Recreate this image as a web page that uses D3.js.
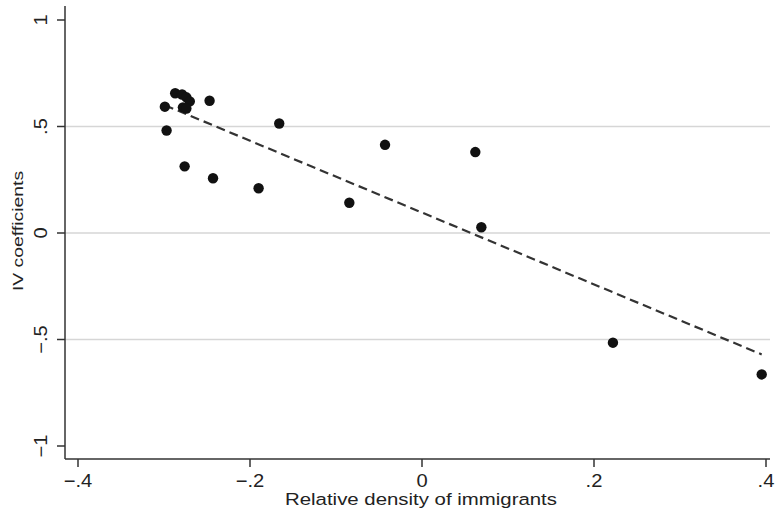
<!DOCTYPE html>
<html>
<head>
<meta charset="utf-8">
<script src="https://cdn.jsdelivr.net/npm/d3@7"></script>
<style>
  body { margin: 0; background: #fff; }
  text { font-family: "Liberation Sans", Arial, sans-serif; fill: #222; }
</style>
</head>
<body>
<div id="chart"></div>
<script>
// relative density of immigrants vs IV coefficient
const densityX = [-0.299, -0.297, -0.287, -0.279, -0.274, -0.270, -0.278, -0.274,
  -0.247, -0.276, -0.243, -0.190, -0.166, -0.0845, -0.043, 0.062, 0.069, 0.222, 0.395];
const ivCoef = [0.593, 0.481, 0.656, 0.650, 0.637, 0.618, 0.590, 0.584,
  0.621, 0.313, 0.257, 0.210, 0.514, 0.142, 0.414, 0.380, 0.027, -0.515, -0.664];

// linear fit end points
const fitX = [-0.299, 0.395];
const fitY = [0.600, -0.570];

const xTicks = [-0.4, -0.2, 0, 0.2, 0.4];
const yTicks = [-1, -0.5, 0, 0.5, 1];
const yGrid = [-0.5, 0, 0.5];

// stata style labels: 0, .5, -.5, 1
const fmt = v => {
  if (Number.isInteger(v)) return String(v).replace("-", "\u2212");
  return d3.format(".1f")(v).replace("0.", ".").replace("-", "\u2212");
};

const width = 778, height = 514;
const axisX = 65, axisY = 459;

const svg = d3.select("#chart").append("svg")
    .attr("width", width)
    .attr("height", height);

const x = d3.scaleLinear().domain([-0.4, 0.4]).range([78, 766]);
const y = d3.scaleLinear().domain([-1, 1]).range([446, 20]);

// grid lines
svg.selectAll("line.grid")
    .data(yGrid)
    .enter().append("line")
    .attr("class", "grid")
    .attr("x1", axisX).attr("x2", 770)
    .attr("y1", d => y(d)).attr("y2", d => y(d))
    .attr("stroke", "#d6d6d6")
    .attr("stroke-width", 1.5);

// axis lines
svg.append("line")
    .attr("x1", axisX).attr("x2", axisX)
    .attr("y1", 6).attr("y2", axisY)
    .attr("stroke", "#333").attr("stroke-width", 1.5);
svg.append("line")
    .attr("x1", axisX).attr("x2", 770)
    .attr("y1", axisY).attr("y2", axisY)
    .attr("stroke", "#333").attr("stroke-width", 1.5);

// y ticks
svg.selectAll("line.ytick")
    .data(yTicks)
    .enter().append("line")
    .attr("x1", axisX - 8).attr("x2", axisX)
    .attr("y1", d => y(d)).attr("y2", d => y(d))
    .attr("stroke", "#333").attr("stroke-width", 1.5);
svg.selectAll("text.ylab")
    .data(yTicks)
    .enter().append("text")
    .attr("transform", d => `translate(47,${y(d)}) rotate(-90) scale(1.12,1)`)
    .attr("text-anchor", "middle")
    .attr("font-size", 18)
    .text(fmt);

// x ticks
svg.selectAll("line.xtick")
    .data(xTicks)
    .enter().append("line")
    .attr("x1", d => x(d)).attr("x2", d => x(d))
    .attr("y1", axisY).attr("y2", axisY + 8)
    .attr("stroke", "#333").attr("stroke-width", 1.5);
svg.selectAll("text.xlab")
    .data(xTicks)
    .enter().append("text")
    .attr("transform", d => `translate(${x(d)},487) scale(1.12,1)`)
    .attr("text-anchor", "middle")
    .attr("font-size", 18)
    .text(fmt);

// titles
svg.append("text")
    .attr("transform", "translate(421,505) scale(1.2,1)")
    .attr("text-anchor", "middle")
    .attr("font-size", 17)
    .text("Relative density of immigrants");
svg.append("text")
    .attr("transform", "translate(23,231) rotate(-90) scale(1.25,1)")
    .attr("text-anchor", "middle")
    .attr("font-size", 15.5)
    .text("IV coefficients");

// fit line
svg.append("path")
    .datum(d3.zip(fitX, fitY))
    .attr("d", d3.line().x(d => x(d[0])).y(d => y(d[1])))
    .attr("fill", "none")
    .attr("stroke", "#333")
    .attr("stroke-width", 2.2)
    .attr("stroke-dasharray", "9,5");

// points
svg.selectAll("circle.pt")
    .data(d3.zip(densityX, ivCoef))
    .enter().append("circle")
    .attr("cx", d => x(d[0]))
    .attr("cy", d => y(d[1]))
    .attr("r", 5.2)
    .attr("fill", "#111");
</script>
</body>
</html>
